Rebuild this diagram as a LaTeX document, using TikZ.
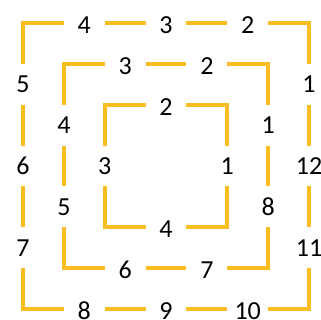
\documentclass[tikz,border=0pt]{standalone}
\usepackage{fontspec}
\setmainfont{Carlito}
\definecolor{gold}{RGB}{250,190,35}
\begin{document}
\begin{tikzpicture}[
  seg/.style={draw=gold,line width=3.8pt,line cap=butt,line join=miter},
  num/.style={inner sep=0pt,font=\fontsize{26}{26}\selectfont,text=black},
  hnum/.style={num,yshift=-2pt}]
\useasboundingbox (0,0) rectangle (321pt,-320pt);
\begin{scope}[shift={(23pt,-23pt)},x=40.857pt,y=-40.857pt]
% outer square
\draw[seg] (0,1)--(0,0)--(1,0);
\draw[seg] (6,0)--(7,0)--(7,1);
\draw[seg] (7,6)--(7,7)--(6,7);
\draw[seg] (1,7)--(0,7)--(0,6);
\draw[seg] (2,0)--(3,0) (4,0)--(5,0);
\draw[seg] (2,7)--(3,7) (4,7)--(5,7);
\draw[seg] (0,2)--(0,3) (0,4)--(0,5);
\draw[seg] (7,2)--(7,3) (7,4)--(7,5);
\node[hnum] (o4) at (1.5,0) {4};
\node[hnum] (o3) at (3.5,0) {3};
\node[hnum] (o2) at (5.5,0) {2};
\node[num] (o1) at (7,1.5) {1};
\node[num] (o12) at (7,3.5) {12};
\node[num] (o11) at (7,5.5) {11};
\node[hnum] (o10) at (5.5,7) {10};
\node[hnum] (o9) at (3.5,7) {9};
\node[hnum] (o8) at (1.5,7) {8};
\node[num] (o7) at (0,5.5) {7};
\node[num] (o6) at (0,3.5) {6};
\node[num] (o5) at (0,1.5) {5};
% middle square
\draw[seg] (1,2)--(1,1)--(2,1);
\draw[seg] (5,1)--(6,1)--(6,2);
\draw[seg] (6,5)--(6,6)--(5,6);
\draw[seg] (2,6)--(1,6)--(1,5);
\draw[seg] (3,1)--(4,1) (3,6)--(4,6) (1,3)--(1,4) (6,3)--(6,4);
\node[hnum] (m3) at (2.5,1) {3};
\node[hnum] (m2) at (4.5,1) {2};
\node[num] (m1) at (6,2.5) {1};
\node[num] (m8) at (6,4.5) {8};
\node[hnum] (m7) at (4.5,6) {7};
\node[hnum] (m6) at (2.5,6) {6};
\node[num] (m5) at (1,4.5) {5};
\node[num] (m4) at (1,2.5) {4};
% inner square
\draw[seg] (2,3)--(2,2)--(3,2);
\draw[seg] (4,2)--(5,2)--(5,3);
\draw[seg] (5,4)--(5,5)--(4,5);
\draw[seg] (3,5)--(2,5)--(2,4);
\node[hnum] (i2) at (3.5,2) {2};
\node[num] (i1) at (5,3.5) {1};
\node[hnum] (i4) at (3.5,5) {4};
\node[num] (i3) at (2,3.5) {3};
\end{scope}
\end{tikzpicture}
\end{document}
